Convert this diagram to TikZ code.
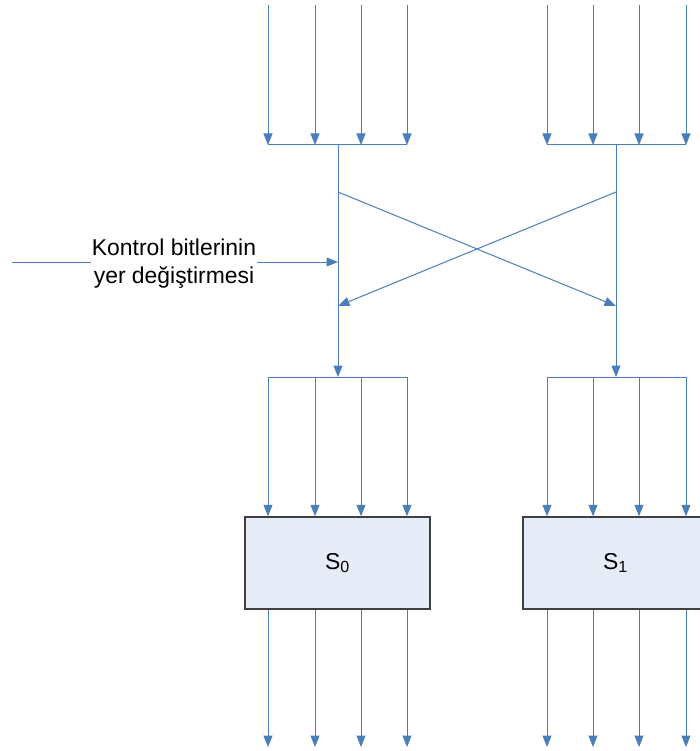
\documentclass[tikz,border=0pt]{standalone}
\usepackage{fontspec}
\setmainfont{Liberation Sans}
\usetikzlibrary{arrows.meta}
\definecolor{lineblue}{HTML}{4A7EBB}
\definecolor{boxfill}{HTML}{E6ECF7}
\begin{document}
\begin{tikzpicture}[x=1pt,y=-1pt,
  wire/.style={draw=lineblue, line width=1pt},
  arr/.style={wire, -{Triangle[width=9pt,length=11.5pt]}},
  sbox/.style={draw=black!75, line width=1.5pt, fill=boxfill, minimum width=185pt, minimum height=92pt, inner sep=0pt, font=\fontsize{23}{27}\selectfont},
  lbl/.style={fill=white, inner sep=1pt, align=center, font=\fontsize{22.9}{28}\selectfont}]
\useasboundingbox (0,0) rectangle (700,751);
\clip (0,0) rectangle (700,751);
% S-boxes
\node[sbox] (s0) at (337.5,563) {S$_{\mathrm{0}}$};
\node[sbox] (s1) at (615.5,563) {S$_{\mathrm{1}}$};
% top inputs
\foreach \x [count=\i] in {268,315,361,407,547,593,639,686} {
  \coordinate (t\i) at (\x,5);
  \coordinate (b\i) at (\x,145);
  \draw[arr] (t\i) -- (b\i);
}
\draw[wire] (b1) -- (b4);
\draw[wire] (b5) -- (b8);
% vertical trunks
\coordinate (m0) at (338,145);
\coordinate (m1) at (616,145);
\coordinate (n0) at (338,377);
\coordinate (n1) at (616,377);
\draw[arr] (m0) -- (n0);
\draw[arr] (m1) -- (n1);
% crossing
\coordinate (c0) at (338,192);
\coordinate (c1) at (616,192);
\coordinate (e0) at (338,306);
\coordinate (e1) at (616,306);
\draw[arr] (c0) -- (e1);
\draw[arr] (c1) -- (e0);
% control label
\coordinate (cs) at (12,262);
\coordinate (ce) at (338,262);
\draw[arr] (cs) -- (ce);
\node[lbl] (label) at (174,264) {Kontrol bitlerinin\\yer değiştirmesi};
% lower buses
\foreach \x [count=\i] in {268,315,361,407,547,593,639,686} {
  \coordinate (p\i) at (\x,377);
  \coordinate (q\i) at (\x,747);
}
\draw[wire] (p1) -- (p4);
\draw[wire] (p5) -- (p8);
\foreach \i in {1,2,3,4} {
  \draw[arr] (p\i) -- (p\i |- s0.north);
  \draw[arr] (p\i |- s0.south) -- (q\i);
}
\foreach \i in {5,6,7,8} {
  \draw[arr] (p\i) -- (p\i |- s1.north);
  \draw[arr] (p\i |- s1.south) -- (q\i);
}
\end{tikzpicture}
\end{document}
